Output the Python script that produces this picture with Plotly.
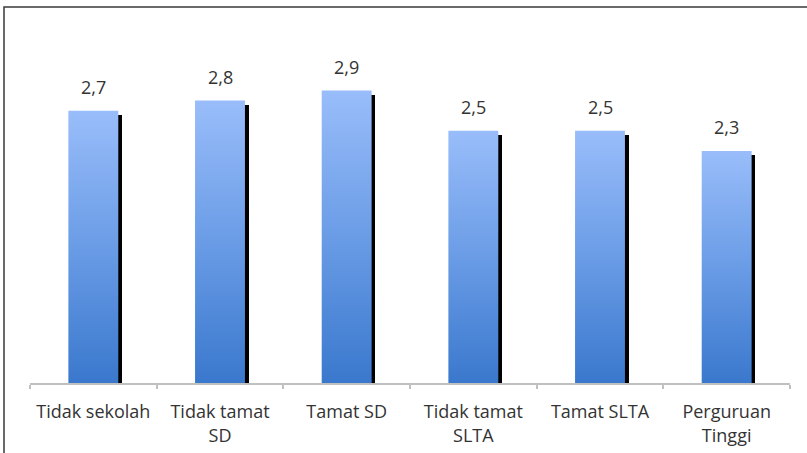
import plotly.graph_objects as go

categories = ["Tidak sekolah", "Tidak tamat<br>SD", "Tamat SD",
              "Tidak tamat<br>SLTA", "Tamat SLTA", "Perguruan<br>Tinggi"]
values = [2.7, 2.8, 2.9, 2.5, 2.5, 2.3]
value_labels = ["2,7", "2,8", "2,9", "2,5", "2,5", "2,3"]

idx = list(range(len(categories)))
half_w = 0.197      # half bar width in category units
shadow_w = 0.036
shadow_drop = 0.04

fig = go.Figure()

# shadows
fig.add_trace(go.Bar(
    x=idx, y=[v - shadow_drop for v in values], base=0,
    width=shadow_w, offset=half_w - 0.006,
    marker=dict(color="#000000", line=dict(width=0)),
    hoverinfo="skip", showlegend=False,
))

# gradient bars
for i, v in zip(idx, values):
    fig.add_trace(go.Scatter(
        x=[i - half_w, i + half_w, i + half_w, i - half_w, i - half_w],
        y=[0, 0, v, v, 0],
        mode="lines", fill="toself",
        line=dict(width=0, color="rgba(0,0,0,0)"),
        fillgradient=dict(type="vertical",
                          colorscale=[[0, "#3a78cd"], [0.5, "#6a9ce6"], [1, "#99bdfa"]]),
        hoverinfo="skip", showlegend=False,
    ))

for i, v, t in zip(idx, values, value_labels):
    fig.add_annotation(x=i, y=v, text=t, showarrow=False, yanchor="bottom",
                       yshift=10, font=dict(size=18, color="#333333"))

fig.add_shape(type="rect", xref="paper", yref="paper",
              x0=(4 - 30) / 760, x1=1.2, y0=-0.4, y1=(383 - 7) / 353,
              line=dict(color="#3a3a3a", width=1.5), layer="above")

fig.update_layout(
    width=807, height=453,
    margin=dict(l=30, r=17, t=30, b=70, autoexpand=False),
    paper_bgcolor="white", plot_bgcolor="white",
    font=dict(family="Open Sans", size=18, color="#333333"),
    bargap=0,
    xaxis=dict(
        range=[-0.5, 5.5], tickmode="array", tickvals=idx, ticktext=categories,
        ticks="", showgrid=False, zeroline=False,
        showline=True, linecolor="#c0c0c0", linewidth=1.5,
        ticklabelstandoff=12,
        tickfont=dict(size=18, color="#333333"),
        minor=dict(tickmode="array", tickvals=[k - 0.5 for k in range(len(categories) + 1)],
                   ticks="outside", ticklen=4, tickcolor="#c0c0c0", tickwidth=1.5,
                   showgrid=False),
    ),
    yaxis=dict(range=[0, 3.5], visible=False, showgrid=False, zeroline=False),
)

fig.write_html("out.html", config={"displayModeBar": False},
               post_script="document.body.style.margin='0';document.body.style.overflow='hidden';")
